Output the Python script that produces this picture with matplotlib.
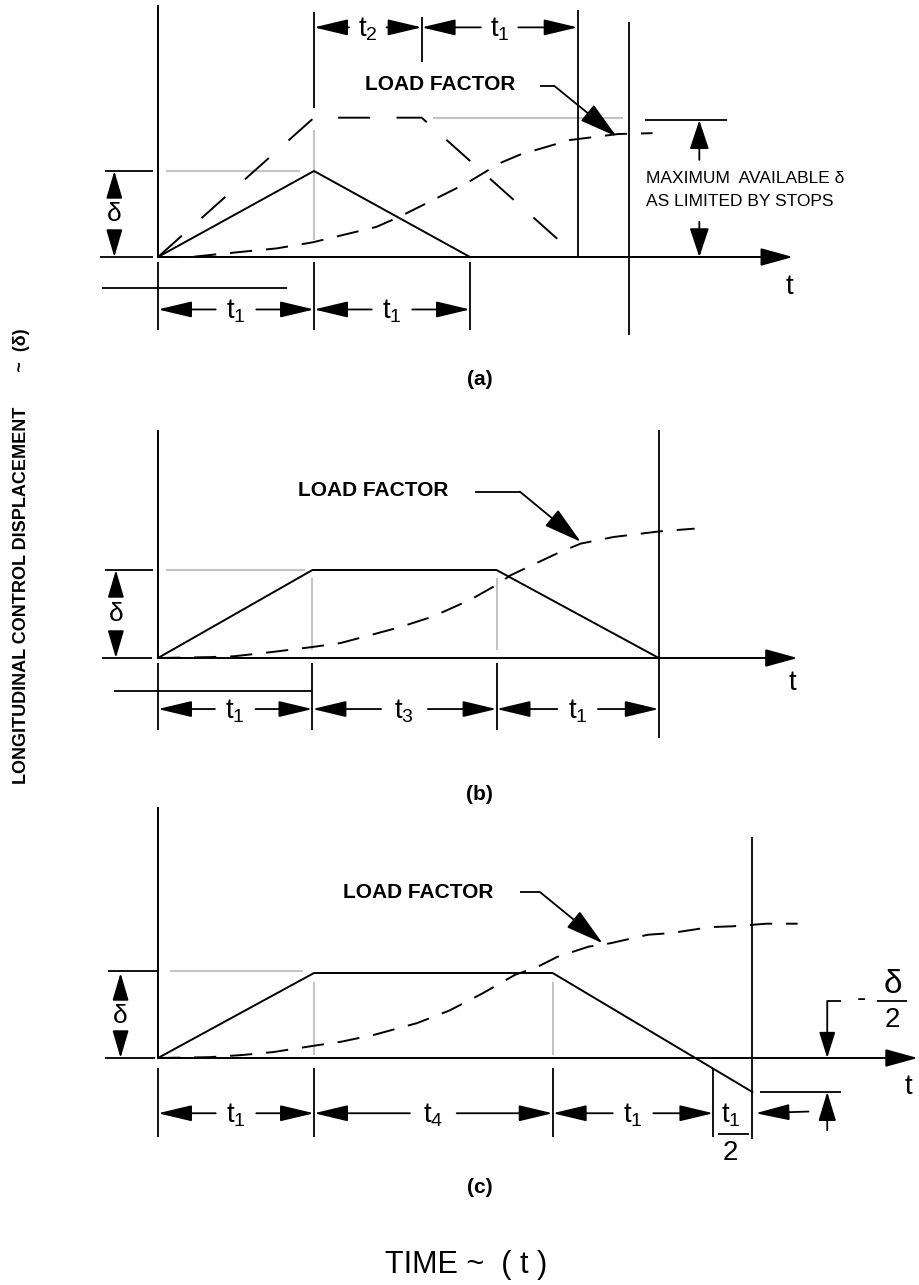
import matplotlib
matplotlib.use("Agg")
import matplotlib.pyplot as plt

plt.rcParams["font.family"] = ["Liberation Sans", "DejaVu Sans"]
plt.rcParams["mathtext.fontset"] = "custom"
plt.rcParams["mathtext.rm"] = "Liberation Sans"
plt.rcParams["mathtext.it"] = "Liberation Sans"
plt.rcParams["mathtext.bf"] = "Liberation Sans:bold"
plt.rcParams["lines.scale_dashes"] = False

# time in units of t1, displacement in units of delta
# (a) triangular pulse, limit pulse up to the stops, load factor response
a_time = [0, 1, 2]
a_defl = [0, 1, 0]
a_stop_time = [0, 1, 1.69, 2.69]
a_stop_defl = [0, 1.62, 1.62, 0]
a_nz_time = [0, 0.21, 0.48, 0.76, 0.99, 1.40, 1.55, 1.76, 1.98, 2.19, 2.32, 2.64, 2.95, 3.17]
a_nz = [0, 0.0, 0.05, 0.10, 0.17, 0.35, 0.47, 0.66, 0.86, 1.09, 1.19, 1.36, 1.43, 1.44]

# (b) ramp - hold - ramp back
b_time = [0, 0.99, 2.17, 3.21]
b_defl = [0, 1, 1, 0]
b_nz_time = [0, 0.33, 0.49, 0.74, 0.99, 1.17, 1.34, 1.55, 1.76, 2.00, 2.17, 2.26, 2.56, 2.71, 2.92, 3.22, 3.44]
b_nz = [0, 0.01, 0.02, 0.07, 0.125, 0.17, 0.25, 0.35, 0.47, 0.66, 0.83, 0.94, 1.19, 1.30, 1.375, 1.44, 1.47]

# (c) ramp - hold - reversal to -delta/2
c_time = [0, 1.0, 2.53, 3.81]
c_defl = [0, 1, 1, -0.40]
c_nz_time = [0, 0.33, 0.54, 0.74, 1.02, 1.17, 1.38, 1.66, 1.87, 2.08, 2.29, 2.43, 2.56,
             2.76, 2.90, 3.14, 3.29, 3.54, 3.69, 3.90, 4.10]
c_nz = [0, 0.01, 0.035, 0.07, 0.15, 0.19, 0.27, 0.41, 0.56, 0.76, 0.98, 1.07, 1.19,
        1.31, 1.35, 1.45, 1.47, 1.54, 1.55, 1.58, 1.58]

GRAY = "#c4c4c4"
LW = 1.4
FIG_W, FIG_H = 920, 1285
X0_PX, T_PX = 158, 156

fig = plt.figure(figsize=(9.2, 12.85), dpi=100)


def panel(top, bottom, axis_y, d_px):
    ax = fig.add_axes([0, 1 - bottom / FIG_H, 1, (bottom - top) / FIG_H])
    ax.set_xlim(-X0_PX / T_PX, (FIG_W - X0_PX) / T_PX)
    ax.set_ylim(-(bottom - axis_y) / d_px, (axis_y - top) / d_px)
    ax.axis("off")
    ax.patch.set_alpha(0)
    return ax


def seg(ax, xs, ys, color="black", lw=1.3, **kw):
    ax.plot(xs, ys, color=color, lw=lw, solid_capstyle="butt", clip_on=False, **kw)


def arrow(ax, tail, tip, hl=2.1, hw=0.5, lw=1.3):
    ax.annotate("", xy=tip, xytext=tail, annotation_clip=False,
                arrowprops=dict(arrowstyle=f"-|>,head_length={hl},head_width={hw}",
                                mutation_scale=10, lw=lw, color="black",
                                shrinkA=0, shrinkB=0))


def tlabel(ax, x, y, s):
    ax.annotate(s, (x, y), xytext=(0, -6.5), textcoords="offset points",
                ha="center", va="baseline", fontsize=20, annotation_clip=False)


def dim(ax, x0, x1, y, s, gap=0.13):
    xm = (x0 + x1) / 2
    arrow(ax, (xm - gap, y), (x0, y))
    arrow(ax, (xm + gap, y), (x1, y))
    tlabel(ax, xm, y, s)


def ddim(ax, x, gap=0.2):
    arrow(ax, (x, 0.5 + gap), (x, 1), hl=1.7, hw=0.5)
    arrow(ax, (x, 0.5 - gap), (x, 0), hl=1.7, hw=0.5)
    ax.text(x, 0.5, "δ", ha="center", va="center", fontsize=19)


def load_factor(ax, txy, p0, p1, tip):
    ax.text(txy[0], txy[1], "LOAD FACTOR", ha="center", va="center",
            fontsize=15, fontweight="bold")
    seg(ax, [p0[0], p1[0]], [p0[1], p1[1]])
    arrow(ax, p1, tip, hl=2.4, hw=0.65)


def axes_lines(ax, ytop, xtip):
    seg(ax, [0, 0], [0, ytop], lw=LW)
    arrow(ax, (0, 0), (xtip, 0), hl=2.0, hw=0.55, lw=LW)


T1 = r"$\mathrm{t}_{1}$"

# ---------------- (a) ----------------
ax = panel(0, 420, 257, 86)
seg(ax, [0.05, 0.91], [1, 1], color=GRAY, lw=1.5)
seg(ax, [1, 1], [0.2, 1.48], color=GRAY, lw=1.5)
seg(ax, [1.76, 2.98], [1.62, 1.62], color=GRAY, lw=1.5)
axes_lines(ax, 2.93, 4.07)
seg(ax, [-0.37, -0.03], [0, 0])
seg(ax, [-0.34, -0.03], [1, 1])
ddim(ax, -0.28)
ax.plot(a_time, a_defl, color="black", lw=LW, clip_on=False)
ax.plot(a_stop_time, a_stop_defl, color="black", lw=LW, ls=(0, (23, 19)), clip_on=False)
ax.plot(a_nz_time, a_nz, color="black", lw=LW, ls=(0, (16, 10)), clip_on=False)
seg(ax, [2.69, 2.69], [0, 2.87])
seg(ax, [3.02, 3.02], [-0.91, 2.73])
seg(ax, [-0.36, 0.83], [-0.36, -0.36])
for x in [0, 1, 2]:
    seg(ax, [x, x], [-0.06, -0.85])
dim(ax, 0, 1, -0.61, T1)
dim(ax, 1, 2, -0.61, T1)
seg(ax, [1, 1], [1.73, 2.85])
seg(ax, [1.69, 1.69], [2.27, 2.79])
dim(ax, 1, 1.69, 2.67, r"$\mathrm{t}_{2}$", gap=0.12)
dim(ax, 1.69, 2.69, 2.67, T1, gap=0.12)
load_factor(ax, (1.81, 2.0), (2.45, 1.99), (2.54, 1.99), (2.94, 1.40))
seg(ax, [3.12, 3.65], [1.59, 1.59])
arrow(ax, (3.47, 1.13), (3.47, 1.59), hl=1.8, hw=0.6)
arrow(ax, (3.47, 0.41), (3.47, 0), hl=1.8, hw=0.6)
ax.text(3.13, 0.91, "MAXIMUM  AVAILABLE δ", ha="left", va="center", fontsize=12.5)
ax.text(3.13, 0.64, "AS LIMITED BY STOPS", ha="left", va="center", fontsize=12.5)
ax.text(4.05, -0.35, "t", ha="center", va="center", fontsize=20)
ax.text(2.06, -1.42, "(a)", ha="center", va="center", fontsize=15, fontweight="bold")

# ---------------- (b) ----------------
ax = panel(420, 840, 658, 88)
seg(ax, [0.05, 0.94], [1, 1], color=GRAY, lw=1.5)
seg(ax, [0.99, 0.99], [0.09, 0.91], color=GRAY, lw=1.5)
seg(ax, [2.17, 2.17], [0.09, 0.91], color=GRAY, lw=1.5)
axes_lines(ax, 2.59, 4.10)
seg(ax, [-0.34, -0.03], [1, 1])
seg(ax, [-0.36, -0.04], [0, 0])
ddim(ax, -0.27)
ax.plot(b_time, b_defl, color="black", lw=LW, clip_on=False)
ax.plot(b_nz_time, b_nz, color="black", lw=LW, ls=(0, (16, 10)), clip_on=False)
seg(ax, [3.21, 3.21], [-0.91, 2.59])
seg(ax, [-0.28, 0.99], [-0.375, -0.375])
for x in [0, 0.99, 2.17]:
    seg(ax, [x, x], [-0.06, -0.82])
dim(ax, 0, 0.99, -0.58, T1)
dim(ax, 0.99, 2.17, -0.58, r"$\mathrm{t}_{3}$", gap=0.15)
dim(ax, 2.17, 3.21, -0.58, T1)
load_factor(ax, (1.38, 1.90), (2.03, 1.89), (2.32, 1.89), (2.71, 1.32))
ax.text(4.07, -0.28, "t", ha="center", va="center", fontsize=20)
ax.text(2.06, -1.55, "(b)", ha="center", va="center", fontsize=15, fontweight="bold")

# ---------------- (c) ----------------
ax = panel(780, 1230, 1058, 85)
seg(ax, [0.08, 0.93], [1.02, 1.02], color=GRAY, lw=1.5)
seg(ax, [1.0, 1.0], [0.04, 0.89], color=GRAY, lw=1.5)
seg(ax, [2.53, 2.53], [0.04, 0.89], color=GRAY, lw=1.5)
axes_lines(ax, 2.95, 4.87)
seg(ax, [-0.32, 0], [1.02, 1.02])
seg(ax, [-0.34, -0.02], [0, 0])
ddim(ax, -0.24)
ax.plot(c_time, c_defl, color="black", lw=LW, clip_on=False)
ax.plot(c_nz_time, c_nz, color="black", lw=LW, ls=(0, (16, 10)), clip_on=False)
seg(ax, [3.81, 3.81], [-0.95, 2.60])
for x in [0, 1.0, 2.53, 3.56]:
    seg(ax, [x, x], [-0.12, -0.93])
dim(ax, 0, 1.0, -0.65, T1)
dim(ax, 1.0, 2.53, -0.65, r"$\mathrm{t}_{4}$", gap=0.15)
dim(ax, 2.53, 3.56, -0.65, T1)
tlabel(ax, 3.67, -0.65, T1)
seg(ax, [3.59, 3.79], [-0.894, -0.894])
ax.text(3.67, -1.12, "2", ha="center", va="center", fontsize=20)
arrow(ax, (4.17, -0.63), (3.83, -0.65))
# -delta/2 dimension
seg(ax, [3.86, 4.38], [-0.40, -0.40])
arrow(ax, (4.29, -0.85), (4.29, -0.40), hl=1.8, hw=0.55)
arrow(ax, (4.29, 0.67), (4.29, 0), hl=1.6, hw=0.5)
seg(ax, [4.29, 4.38], [0.67, 0.67])
ax.text(4.51, 0.69, "-", ha="center", va="center", fontsize=20)
ax.text(4.71, 0.86, "δ", ha="center", va="center", fontsize=24)
seg(ax, [4.61, 4.80], [0.67, 0.67])
ax.text(4.71, 0.45, "2", ha="center", va="center", fontsize=20)
load_factor(ax, (1.67, 1.95), (2.32, 1.95), (2.45, 1.95), (2.85, 1.35))
ax.text(4.81, -0.34, "t", ha="center", va="center", fontsize=20)
ax.text(2.06, -1.52, "(c)", ha="center", va="center", fontsize=15, fontweight="bold")

# shared axis titles
fig.text(22 / FIG_W, 1 - 556 / FIG_H, "LONGITUDINAL CONTROL DISPLACEMENT       ~  (δ)",
         rotation=90, fontweight="bold", fontsize=13, ha="center", va="center")
fig.text(385 / FIG_W, 1 - 1265 / FIG_H, "TIME ~  ( t )", fontsize=22, ha="left", va="center")

fig.savefig("out.png", dpi=100)
